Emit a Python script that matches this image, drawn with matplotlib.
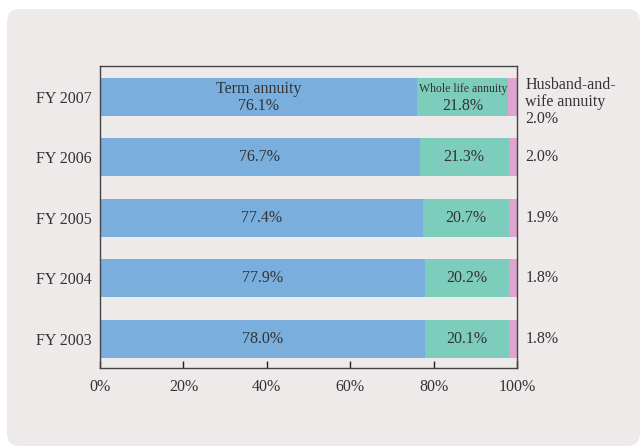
import matplotlib.pyplot as plt
from matplotlib.patches import FancyBboxPatch

years = ['FY 2003', 'FY 2004', 'FY 2005', 'FY 2006', 'FY 2007']
term = [78.0, 77.9, 77.4, 76.7, 76.1]
whole = [20.1, 20.2, 20.7, 21.3, 21.8]
husband = [1.8, 1.8, 1.9, 2.0, 2.0]
xticks = [0, 20, 40, 60, 80, 100]

c_term = '#7aafdd'
c_whole = '#7dcdbd'
c_husb = '#dda5cf'
bg = '#eeeae9'
txt = '#333333'
fs = 11.5

plt.rcParams['font.family'] = ['Liberation Serif', 'DejaVu Serif']

fig = plt.figure(figsize=(6.42, 4.47), dpi=100)
fig.patch.set_facecolor('white')
panel = FancyBboxPatch((7 / 642, 1 / 447), 633 / 642, 437 / 447,
                       boxstyle='round,pad=0,rounding_size=0.02',
                       transform=fig.transFigure, facecolor=bg,
                       edgecolor='none', mutation_aspect=642 / 447, zorder=-5)
fig.patches.append(panel)

ax = fig.add_axes([100 / 642, 1 - 368 / 447, 417 / 642, 302 / 447])
ax.set_facecolor(bg)

y = list(range(len(years)))
h = 0.63
ax.barh(y, term, height=h, color=c_term)
ax.barh(y, whole, left=term, height=h, color=c_whole)
left3 = [a + b for a, b in zip(term, whole)]
ax.barh(y, husband, left=left3, height=h, color=c_husb)

ax.set_xlim(0, 100)
ax.set_ylim(-0.48, 4.51)

for i in y:
    t = f'{term[i]:.1f}%'
    w = f'{whole[i]:.1f}%'
    hb = f'{husband[i]:.1f}%'
    if i == len(years) - 1:
        ax.text(term[i] / 2, i + 0.13, 'Term annuity', ha='center', va='center',
                fontsize=fs, color=txt)
        ax.text(term[i] / 2, i - 0.15, t, ha='center', va='center',
                fontsize=fs, color=txt)
        ax.text(term[i] + whole[i] / 2, i + 0.13, 'Whole life annuity',
                ha='center', va='center', fontsize=8.5, color=txt)
        ax.text(term[i] + whole[i] / 2, i - 0.15, w, ha='center', va='center',
                fontsize=fs, color=txt)
        ax.text(102, i - 0.08, 'Husband-and-\nwife annuity\n' + hb,
                ha='left', va='center', fontsize=fs, color=txt,
                linespacing=1.1, clip_on=False)
    else:
        ax.text(term[i] / 2, i, t, ha='center', va='center', fontsize=fs, color=txt)
        ax.text(term[i] + whole[i] / 2, i, w, ha='center', va='center',
                fontsize=fs, color=txt)
        ax.text(102, i, hb, ha='left', va='center', fontsize=fs, color=txt,
                clip_on=False)

ax.set_yticks(y)
ax.set_yticklabels(years, fontsize=fs, color=txt)
ax.tick_params(axis='y', length=0, pad=6)
ax.set_xticks(xticks)
ax.set_xticklabels([f'{v}%' for v in xticks], fontsize=fs, color=txt)
ax.tick_params(axis='x', direction='in', length=5, width=1, pad=8, color='#222222')
for s in ax.spines.values():
    s.set_color('#444444')
    s.set_linewidth(1)

fig.savefig('out.png', dpi=100, facecolor=fig.get_facecolor())
